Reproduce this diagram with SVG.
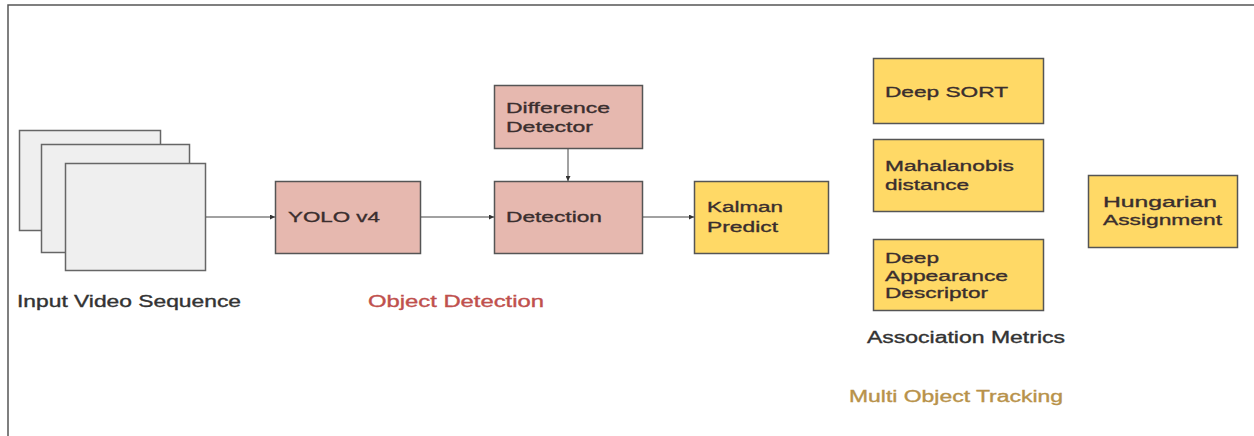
<svg xmlns="http://www.w3.org/2000/svg" width="1254" height="436" viewBox="0 0 1254 436">
<defs>
<style>
.frame{fill:none;stroke:#555;stroke-width:1.5}
.sheet{fill:#efefef;stroke:#666;stroke-width:1.5}
.pink{fill:#e6b8af;stroke:#555;stroke-width:1.5}
.yel{fill:#ffd966;stroke:#555;stroke-width:1.5}
.t{font-family:"Liberation Sans",Arial,sans-serif;font-size:15.5px;fill:#3a2e2e;stroke:#3a2e2e;stroke-width:0.35}
.lbl{font-family:"Liberation Sans",Arial,sans-serif;font-size:16px;fill:#333;stroke:#333;stroke-width:0.35}
.red{fill:#c0504d;stroke:#c0504d}
.gold{fill:#b8924a;stroke:#b8924a}
.edge{stroke:#444;stroke-width:1;fill:none}
</style>
<marker id="ah" viewBox="0 0 10 10" refX="10" refY="5" markerWidth="5" markerHeight="5" orient="auto" markerUnits="userSpaceOnUse">
<path d="M0,0 L10,5 L0,10 z" fill="#333"/>
</marker>
</defs>
<rect width="1254" height="436" fill="#fff"/>
<path class="frame" d="M8,436 L8,5 L1254,5"/>

<g id="input">
<rect class="sheet" x="19.5" y="130.5" width="141" height="100"/>
<rect class="sheet" x="41.5" y="144.5" width="148" height="108"/>
<rect class="sheet" x="65.5" y="163.5" width="140" height="107"/>
<text class="lbl" x="17" y="307" textLength="224" lengthAdjust="spacingAndGlyphs">Input Video Sequence</text>
</g>

<g id="yolo">
<rect class="pink" x="275.5" y="181.5" width="145" height="72"/>
<text class="t" x="288" y="222" font-size="16" textLength="92" lengthAdjust="spacingAndGlyphs">YOLO v4</text>
</g>

<g id="diffdet">
<rect class="pink" x="494.5" y="85.5" width="148" height="63"/>
<text class="t" x="506" y="113" textLength="104" lengthAdjust="spacingAndGlyphs">Difference</text>
<text class="t" x="506" y="132" textLength="87" lengthAdjust="spacingAndGlyphs">Detector</text>
</g>

<g id="detection">
<rect class="pink" x="494.5" y="181.5" width="148" height="72"/>
<text class="t" x="506" y="222" textLength="96" lengthAdjust="spacingAndGlyphs">Detection</text>
</g>

<g id="kalman">
<rect class="yel" x="694.5" y="181.5" width="134" height="72"/>
<text class="t" x="707" y="212" textLength="76" lengthAdjust="spacingAndGlyphs">Kalman</text>
<text class="t" x="707" y="232" textLength="71" lengthAdjust="spacingAndGlyphs">Predict</text>
</g>

<g id="objdet-label">
<text class="lbl red" x="368" y="307" textLength="176" lengthAdjust="spacingAndGlyphs">Object Detection</text>
</g>

<g id="deepsort">
<rect class="yel" x="873.5" y="58.5" width="170" height="65"/>
<text class="t" x="885" y="97" textLength="123" lengthAdjust="spacingAndGlyphs">Deep SORT</text>
</g>

<g id="mahalanobis">
<rect class="yel" x="873.5" y="139.5" width="170" height="72"/>
<text class="t" x="885" y="171" textLength="129" lengthAdjust="spacingAndGlyphs">Mahalanobis</text>
<text class="t" x="885" y="190" textLength="84" lengthAdjust="spacingAndGlyphs">distance</text>
</g>

<g id="appearance">
<rect class="yel" x="873.5" y="239.5" width="170" height="71"/>
<text class="t" x="885" y="263" textLength="54" lengthAdjust="spacingAndGlyphs">Deep</text>
<text class="t" x="885" y="281" textLength="123" lengthAdjust="spacingAndGlyphs">Appearance</text>
<text class="t" x="885" y="298" textLength="103" lengthAdjust="spacingAndGlyphs">Descriptor</text>
</g>

<g id="hungarian">
<rect class="yel" x="1088.5" y="175.5" width="149" height="72"/>
<text class="t" x="1103" y="207" textLength="114" lengthAdjust="spacingAndGlyphs">Hungarian</text>
<text class="t" x="1103" y="225" textLength="119" lengthAdjust="spacingAndGlyphs">Assignment</text>
</g>

<g id="assoc-label">
<text class="lbl" x="867" y="343" textLength="198" lengthAdjust="spacingAndGlyphs">Association Metrics</text>
</g>

<g id="mot-label">
<text class="lbl gold" x="849" y="402" textLength="214" lengthAdjust="spacingAndGlyphs">Multi Object Tracking</text>
</g>

<g id="connectors">
<line class="edge" x1="206" y1="217" x2="275" y2="217" marker-end="url(#ah)"/>
<line class="edge" x1="421" y1="217" x2="494" y2="217" marker-end="url(#ah)"/>
<line class="edge" x1="643" y1="217" x2="694" y2="217" marker-end="url(#ah)"/>
<line class="edge" x1="568" y1="149" x2="568" y2="181" marker-end="url(#ah)"/>
</g>
</svg>
